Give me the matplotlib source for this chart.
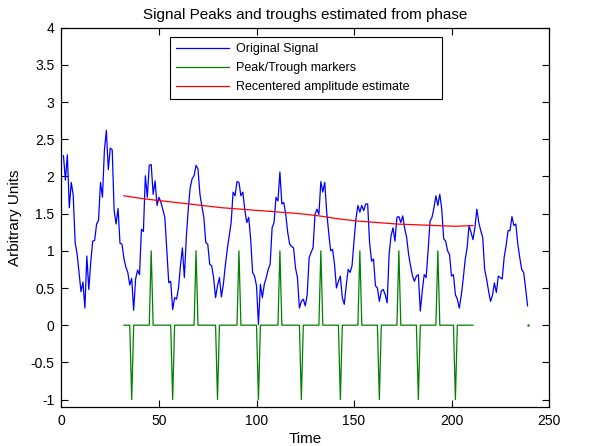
import matplotlib
matplotlib.use("Agg")
import matplotlib.pyplot as plt
import numpy as np

plt.rcParams['font.family'] = ['Liberation Sans', 'DejaVu Sans']

# Original signal, sampled at t = 1..239
signal = [
    2.28, 1.95, 2.29, 1.58, 1.92, 1.75, 1.11, 0.96, 0.70, 0.45,
    0.58, 0.23, 0.93, 0.48, 0.85, 1.13, 1.14, 1.36, 1.41, 1.92,
    1.72, 2.35, 2.62, 2.09, 2.38, 2.36, 1.54, 1.36, 1.57, 1.10,
    1.09, 0.90, 0.78, 0.71, 0.54, 0.63, 0.20, 0.62, 0.74, 0.68,
    1.29, 1.26, 2.01, 1.72, 2.15, 2.16, 1.76, 1.94, 1.61, 1.72,
    1.65, 1.55, 1.45, 1.00, 0.57, 0.59, 0.21, 0.37, 0.35, 0.50,
    0.80, 1.04, 0.64, 1.18, 1.56, 1.85, 1.97, 2.01, 2.15, 2.10,
    1.76, 1.60, 1.45, 1.11, 1.09, 0.82, 0.80, 0.64, 0.37, 0.53,
    0.64, 0.38, 0.55, 0.80, 1.02, 1.20, 1.38, 1.79, 1.74, 1.93,
    1.92, 1.74, 1.79, 1.55, 1.38, 1.45, 1.16, 0.71, 0.66, 0.53,
    0.01, 0.55, 0.37, 0.55, 0.64, 0.75, 0.82, 1.31, 1.38, 1.72,
    1.67, 2.06, 1.63, 1.65, 1.49, 1.25, 1.09, 1.06, 1.04, 0.77,
    0.64, 0.23, 0.32, 0.35, 0.26, 0.41, 0.91, 0.98, 1.04, 1.49,
    1.56, 1.49, 1.93, 1.79, 1.92, 1.52, 1.25, 1.00, 1.02, 0.82,
    0.50, 0.59, 0.66, 0.37, 0.28, 0.53, 0.75, 0.71, 0.80, 1.13,
    1.43, 1.61, 1.52, 1.61, 1.54, 1.63, 1.63, 1.11, 0.86, 0.89,
    0.53, 0.50, 0.32, 0.46, 0.48, 0.41, 0.30, 0.95, 1.20, 1.31,
    1.13, 1.45, 1.46, 1.38, 1.47, 1.30, 1.18, 0.95, 0.80, 0.66,
    0.59, 0.66, 0.68, 0.19, 0.46, 0.68, 0.64, 1.00, 1.40, 1.45,
    1.58, 1.74, 1.61, 1.76, 1.56, 1.16, 1.13, 1.00, 0.95, 0.66,
    0.68, 0.41, 0.35, 0.23, 0.40, 0.62, 0.88, 1.04, 1.34, 1.25,
    1.15, 1.31, 1.56, 1.38, 1.27, 1.18, 0.75, 0.62, 0.46, 0.32,
    0.40, 0.57, 0.44, 0.66, 0.64, 0.62, 0.91, 1.07, 1.27, 1.27,
    1.46, 1.34, 1.36, 1.09, 0.91, 0.75, 0.71, 0.50, 0.26,
]
signal_t = np.arange(1, len(signal) + 1)

# Peak / trough markers
marker_start = 32
marker_end = 211
peak_times = [46, 69, 91, 112, 133, 153, 173, 193]
trough_times = [36, 57, 80, 101, 123, 143, 163, 183, 202]
stray_marker_t = [239]
stray_marker_v = [0]

# Recentered amplitude estimate
amp_t = [32, 42, 52, 62, 72, 82, 92, 102, 112, 122, 132, 142, 152, 162,
         172, 182, 192, 202, 211]
amp_v = [1.74, 1.70, 1.67, 1.64, 1.61, 1.58, 1.56, 1.54, 1.52, 1.50,
         1.47, 1.43, 1.40, 1.38, 1.36, 1.35, 1.34, 1.33, 1.34]

title = "Signal Peaks and troughs estimated from phase"
xlabel = "Time"
ylabel = "Arbitrary Units"
legend_labels = ["Original Signal", "Peak/Trough markers",
                 "Recentered amplitude estimate"]

marker_t = np.arange(marker_start, marker_end + 1)
marker_v = np.zeros(len(marker_t))
for p in peak_times:
    marker_v[marker_t == p] = 1
for tr in trough_times:
    marker_v[marker_t == tr] = -1

fig = plt.figure(figsize=(6.0, 4.46), dpi=100)
ax = fig.add_axes([61.5 / 600, 1 - 407 / 446, (549 - 61.5) / 600, (407 - 27.7) / 446])

l1, = ax.plot(signal_t, signal, color='#0000FF', lw=0.9)
l2, = ax.plot(marker_t, marker_v, color='#008000', lw=0.9)
ax.plot(stray_marker_t, stray_marker_v, color='#008000', marker='.',
        markersize=1.5, lw=0)
l3, = ax.plot(amp_t, amp_v, color='#FF0000', lw=0.9)

ax.set_xlim(0, 250)
ax.set_ylim(-1.1, 4)
ax.set_xticks([0, 50, 100, 150, 200, 250])
ax.set_yticks(np.arange(-1, 4.01, 0.5))
ax.set_yticklabels(['-1', '-0.5', '0', '0.5', '1', '1.5', '2', '2.5', '3',
                    '3.5', '4'])
ax.tick_params(direction='in', length=5, width=0.8, top=True, right=True,
               labelsize=10, pad=5)
for s in ax.spines.values():
    s.set_linewidth(0.9)

ax.set_title(title, fontsize=11, pad=6)
ax.set_xlabel(xlabel, fontsize=11, labelpad=3)
ax.set_ylabel(ylabel, fontsize=11, labelpad=6)

leg = fig.legend([l1, l2, l3], legend_labels, loc='upper left',
                 bbox_to_anchor=(170 / 600, 1 - 100 / 446, 272 / 600, 63 / 446),
                 mode='expand', fontsize=9, frameon=True, fancybox=False,
                 edgecolor='black', framealpha=1, handlelength=4.2,
                 handletextpad=0.6, labelspacing=0.55, borderpad=0.5,
                 borderaxespad=0)
leg.get_frame().set_linewidth(0.8)

fig.savefig('out.png', dpi=100)
